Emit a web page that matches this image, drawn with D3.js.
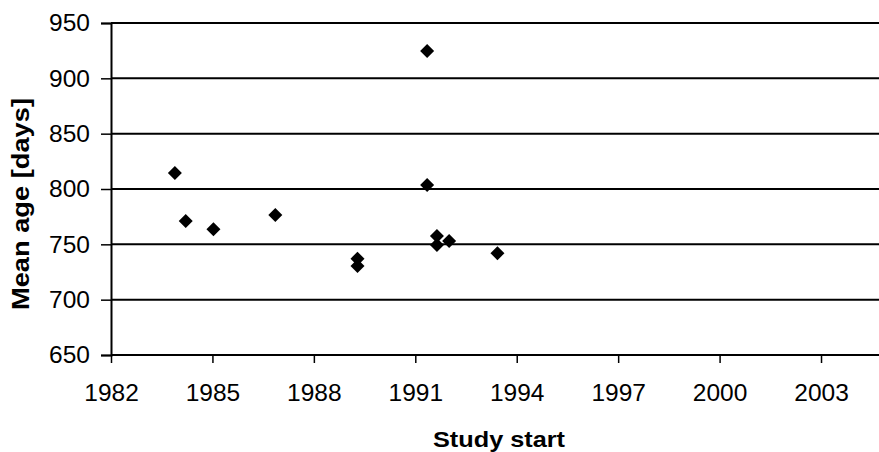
<!DOCTYPE html>
<html>
<head>
<meta charset="utf-8">
<script src="https://cdn.jsdelivr.net/npm/d3@7"></script>
<style>
  html, body { margin: 0; padding: 0; background: #fff; }
  svg { display: block; font-family: "Liberation Sans", Arial, sans-serif; }
</style>
</head>
<body>
<div id="chart"></div>
<script>
// study start (year) and mean age (days)
const studyStart = [1983.89, 1984.21, 1985.03, 1986.86, 1989.29, 1989.29,
                    1991.35, 1991.35, 1991.64, 1991.64, 1992.0, 1993.43];
const meanAge = [814.5, 771, 763.6, 776.5, 737, 730.4,
                 924.7, 803.6, 757.5, 749.4, 753, 742];
const xTicks = [1982, 1985, 1988, 1991, 1994, 1997, 2000, 2003];
const yTicks = [650, 700, 750, 800, 850, 900, 950];

const width = 879;
const height = 452;
const margin = { top: 23, right: 0.5, bottom: 97, left: 111 };

const svg = d3.select("#chart")
    .append("svg")
    .attr("width", width)
    .attr("height", height);

const x = d3.scaleLinear()
    .domain([1982, 2004.7])
    .range([margin.left, width - margin.right]);

const y = d3.scaleLinear()
    .domain([650, 950])
    .range([height - margin.bottom, margin.top]);

// horizontal grid lines
svg.append("g")
    .selectAll("line")
    .data(yTicks.slice(1))
    .enter().append("line")
    .attr("x1", margin.left)
    .attr("x2", width)
    .attr("y1", (d) => y(d))
    .attr("y2", (d) => y(d))
    .attr("stroke", "#000")
    .attr("stroke-width", 2);

// y axis
const yAxis = svg.append("g")
    .attr("transform", "translate(" + margin.left + ",0)")
    .call(d3.axisLeft(y).tickValues(yTicks).tickSize(10).tickPadding(11).tickFormat(d3.format("d")));

// x axis
const xAxis = svg.append("g")
    .attr("transform", "translate(0," + (height - margin.bottom) + ")")
    .call(d3.axisBottom(x).tickValues(xTicks).tickSize(8).tickPadding(21).tickFormat(d3.format("d")));

[yAxis, xAxis].forEach((g) => {
    g.select(".domain").attr("stroke", "#000").attr("stroke-width", 2);
    g.selectAll(".tick line").attr("stroke", "#000").attr("stroke-width", 1.5);
    g.selectAll(".tick text")
        .attr("fill", "#000")
        .style("font-size", "24.5px")
        .style("font-family", "'Liberation Sans', Arial, sans-serif");
});
xAxis.select(".domain").attr("d", "M" + margin.left + ",0H" + width);

// diamond markers
const diamond = "M0,-7L7,0L0,7L-7,0Z";
svg.append("g")
    .selectAll("path")
    .data(studyStart)
    .enter().append("path")
    .attr("d", diamond)
    .attr("transform", (d, i) => "translate(" + x(d) + "," + y(meanAge[i]) + ")")
    .attr("fill", "#000");

// axis titles
svg.append("text")
    .attr("x", 499)
    .attr("y", 447)
    .attr("text-anchor", "middle")
    .style("font-weight", "bold")
    .style("font-size", "22px")
    .attr("textLength", 132)
    .attr("lengthAdjust", "spacingAndGlyphs")
    .text("Study start");

svg.append("text")
    .attr("transform", "translate(29,204) rotate(-90)")
    .attr("text-anchor", "middle")
    .style("font-weight", "bold")
    .style("font-size", "23px")
    .attr("textLength", 212)
    .attr("lengthAdjust", "spacingAndGlyphs")
    .text("Mean age [days]");
</script>
</body>
</html>
